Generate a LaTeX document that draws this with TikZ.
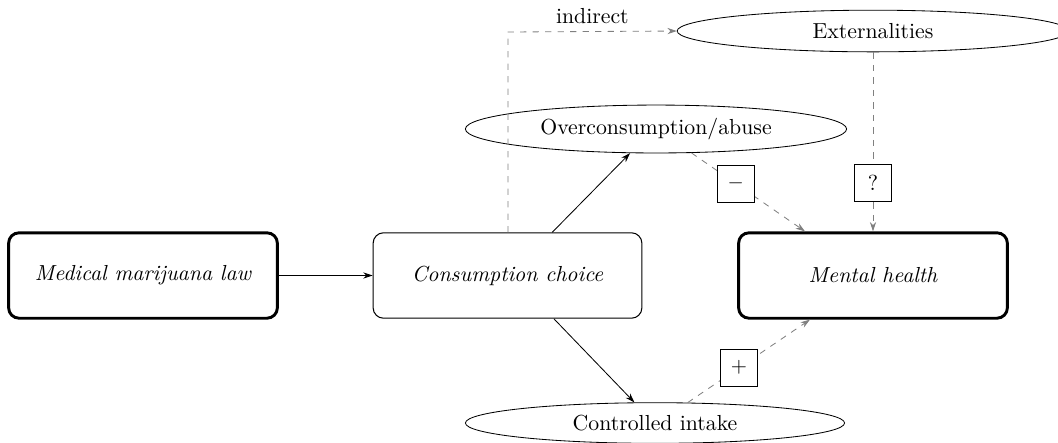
\documentclass[tikz,border=0pt]{standalone}
\usetikzlibrary{arrows.meta,shapes.geometric}
\begin{document}
\begin{tikzpicture}[x=0.48pt,y=-0.48pt,
  every node/.style={font=\fontsize{10.45}{12.5}\selectfont},
  tip/.style={-{Stealth[length=4.5pt,width=3pt]}},
  mainbox/.style={draw,rounded corners=5pt,minimum width=129pt,minimum height=41pt,inner sep=0pt,font=\fontsize{10.45}{12.5}\selectfont\itshape},
  heavy/.style={line width=1.4pt},
  oval/.style={draw,ellipse,inner sep=0pt},
  sign/.style={draw,solid,black,fill=white,minimum size=17.8pt,inner sep=0pt},
  gline/.style={draw=gray,dashed,tip}]
\useasboundingbox (0,0) rectangle (1058,442);
\node[mainbox,heavy] (med) at (143,275.5) {Medical marijuana law};
\node[mainbox,line width=0.5pt] (cons) at (507.5,275.5) {Consumption choice};
\node[mainbox,heavy] (mental) at (873,275.5) {Mental health};
\node[oval,minimum width=183pt,minimum height=23pt] (over) at (656,129) {Overconsumption/abuse};
\node[oval,minimum width=188pt,minimum height=20pt] (ext) at (873,31) {Externalities};
\node[oval,minimum width=182pt,minimum height=19.5pt] (ctrl) at (655,423) {Controlled intake};
\coordinate (corner) at (508,32);
\draw[tip] (med.east) -- (cons.west);
\draw[tip] (cons.44) -- (over.223);
\draw[tip] (cons.-43) -- (ctrl.135);
\draw[gline] (cons.north -| corner) -- (corner) -- node[above,black,pos=0.5]{indirect} (ext.west);
\draw[gline] (ext.south -| mental.north) -- node[sign,pos=0.73]{?} (mental.north);
\draw[gline] (over.-34) -- node[sign,pos=0.39]{$-$} (mental.147);
\draw[gline] (ctrl.32) -- node[sign,pos=0.42]{$+$} (mental.215);
\end{tikzpicture}
\end{document}
